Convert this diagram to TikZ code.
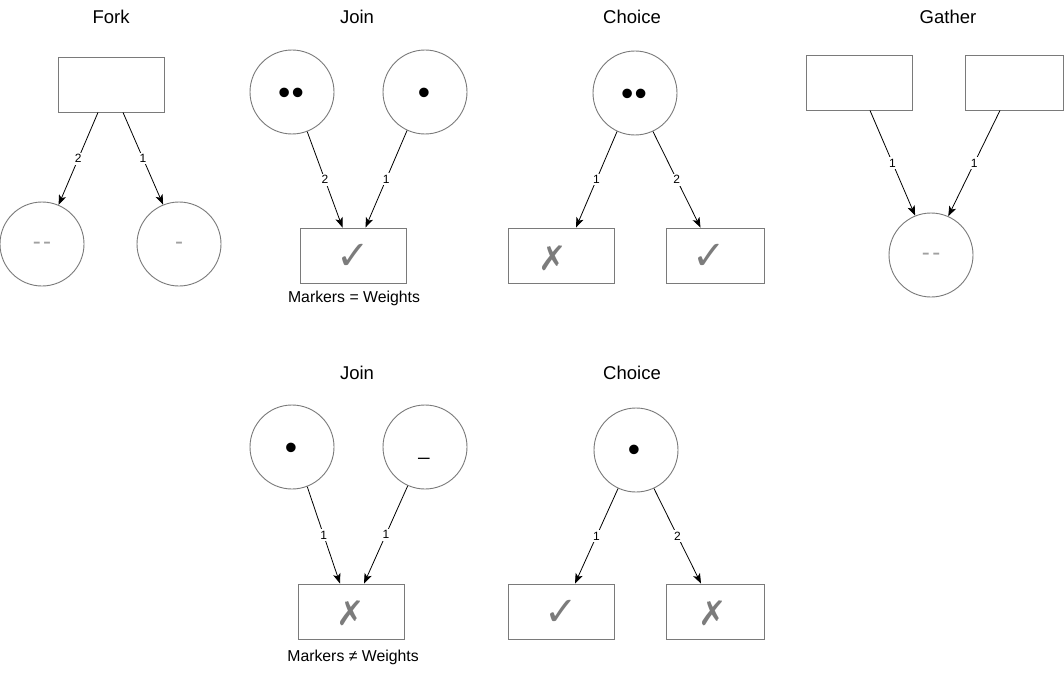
\documentclass[tikz,border=0pt]{standalone}
\usepackage{fontspec}
\setmainfont{Liberation Sans}
\newfontfamily\symfont{DejaVu Sans}
\usetikzlibrary{arrows.meta}
\definecolor{shapegray}{HTML}{7A7A7A}
\definecolor{markgray}{HTML}{7C7C7C}
\definecolor{dashgray}{HTML}{A0A0A0}
\begin{document}
\begin{tikzpicture}[x=1pt,y=-1pt,
  place/.style={circle,draw=shapegray,line width=0.9pt,minimum size=84pt,inner sep=0pt},
  trans/.style={rectangle,draw=shapegray,line width=0.9pt,minimum width=106pt,minimum height=55pt,inner sep=0pt},
  transn/.style={trans,minimum width=98pt},
  ttl/.style={font=\fontsize{18.5}{20}\selectfont,inner sep=0pt},
  arc/.style={-{Stealth[length=10pt,width=7.5pt,inset=2.5pt]},line width=0.8pt},
  wt/.style={fill=white,inner sep=1.8pt,font=\fontsize{12}{13}\selectfont},
  tok/.style={font=\fontsize{35}{35}\selectfont,inner sep=0pt,anchor=base},
  dsh/.style={font=\fontsize{24}{24}\selectfont,text=dashgray,inner sep=0pt,anchor=base},
  mkc/.style={font=\symfont\fontsize{40}{40}\selectfont,text=markgray,inner sep=0pt},
  mkx/.style={font=\symfont\fontsize{34}{34}\selectfont,text=markgray,inner sep=0pt},
  captxt/.style={font=\fontsize{15.8}{17}\selectfont,inner sep=0pt}]
\useasboundingbox[fill=white] (0,0) rectangle (1064,674);

% ---------- Fork ----------
\node[ttl] (tfork) at (111,17) {Fork};
\node[trans] (fr) at (111,84.5) {};
\node[place] (fc1) at (42,244) {};
\node[place] (fc2) at (179,244) {};
\node[dsh] (fd1) at (42,249) {-\hspace{2.5pt}-};
\node[dsh] (fd2) at (179,249) {-};
\draw[arc] ([xshift=-13pt]fr.south) -- node[wt] {2} (fc1.67);
\draw[arc] ([xshift=12pt]fr.south) -- node[wt] {1} (fc2.112);

% ---------- Join (top) ----------
\node[ttl] (tjoin1) at (357,17) {Join};
\node[place] (jc1) at (292,92) {};
\node[place] (jc2) at (425,92) {};
\node[tok] (jk1) at (291,104.5) {•\hspace{1.5pt}•};
\node[tok] (jk2) at (424,104.5) {•};
\node[trans] (jt) at (353.5,255.5) {};
\node[mkc] (jm) at (353,257) {✓};
\draw[arc] (jc1.-69) -- node[wt] {2} ([xshift=-11pt]jt.north);
\draw[arc] (jc2.-115) -- node[wt] {1} ([xshift=12pt]jt.north);
\node[captxt] (jcap) at (354,298) {Markers = Weights};

% ---------- Choice (top) ----------
\node[ttl] (tchoice1) at (632,17) {Choice};
\node[place] (cc) at (635,93) {};
\node[tok] (ck) at (634,105.5) {•\hspace{1.5pt}•};
\node[trans] (ct1) at (561,255.5) {};
\node[transn] (ct2) at (715,255.5) {};
\node[mkx] (cm1) at (553,258) {✗};
\node[mkc] (cm2) at (709,257) {✓};
\draw[arc] (cc.-115) -- node[wt] {1} ([xshift=15pt]ct1.north);
\draw[arc] (cc.-65) -- node[wt] {2} ([xshift=-14.5pt]ct2.north);

% ---------- Gather ----------
\node[ttl] (tgather) at (948,17) {Gather};
\node[trans] (gt1) at (859.5,82.5) {};
\node[transn] (gt2) at (1014,82.5) {};
\node[place] (gc) at (931,255) {};
\node[dsh] (gd) at (931,260) {-\hspace{2.5pt}-};
\draw[arc] ([xshift=10.5pt]gt1.south) -- node[wt] {1} (gc.112);
\draw[arc] ([xshift=-14pt]gt2.south) -- node[wt] {1} (gc.66);

% ---------- Join (bottom) ----------
\node[ttl] (tjoin2) at (357,373) {Join};
\node[place] (bc1) at (292,447) {};
\node[place] (bc2) at (425,447) {};
\node[tok] (bk1) at (291,459.5) {•};
\node[font=\fontsize{20}{20}\selectfont,inner sep=0pt] (bk2) at (424,457) {\_};
\node[trans] (bt) at (351.5,611.5) {};
\node[mkx] (bm) at (351,613) {✗};
\draw[arc] (bc1.-69) -- node[wt] {1} ([xshift=-11.5pt]bt.north);
\draw[arc] (bc2.-114) -- node[wt] {1} ([xshift=12.5pt]bt.north);
\node[captxt] (bcap) at (353,657) {Markers ≠ Weights};

% ---------- Choice (bottom) ----------
\node[ttl] (tchoice2) at (632,373) {Choice};
\node[place] (dc) at (636,450) {};
\node[tok] (dk) at (634,461.5) {•};
\node[trans] (dt1) at (561,611.5) {};
\node[transn] (dt2) at (715,611.5) {};
\node[mkc] (dm1) at (561,613) {✓};
\node[mkx] (dm2) at (713,613) {✗};
\draw[arc] (dc.-115) -- node[wt] {1} ([xshift=14pt]dt1.north);
\draw[arc] (dc.-65) -- node[wt] {2} ([xshift=-14pt]dt2.north);
\end{tikzpicture}
\end{document}
